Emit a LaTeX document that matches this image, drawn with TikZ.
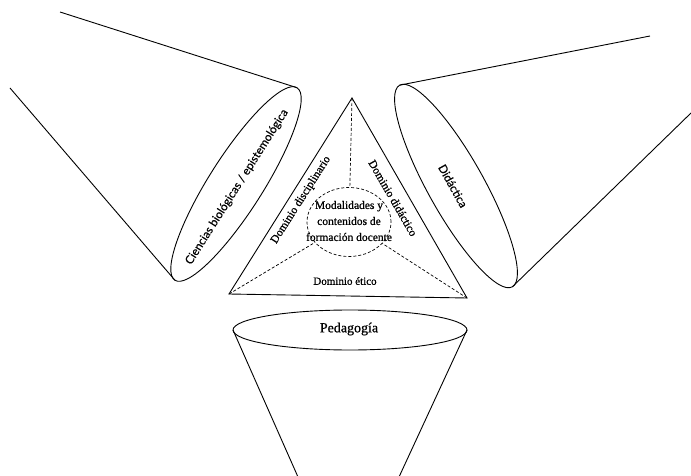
\documentclass[tikz,border=0pt]{standalone}
\usepackage{fontspec}
\setmainfont{Liberation Serif}
\newfontfamily\darkserif[FakeBold=0.8]{Liberation Serif}
\newfontfamily\optfont[FakeBold=0.4]{Lato}
\usetikzlibrary{shapes.geometric}
\begin{document}
\begin{tikzpicture}[x=1pt,y=-1pt, line width=0.9pt,
  conebase/.style={draw, ellipse, inner sep=0pt, outer sep=0pt},
  lbl/.style={inner sep=0pt, font=\darkserif\fontsize{11.5}{13}\selectfont},
  sanslbl/.style={inner sep=0pt, font=\optfont\fontsize{11.5}{13}\selectfont},
  dsh/.style={dash pattern=on 3pt off 2pt, line width=0.7pt}]
\useasboundingbox (0,0) rectangle (691,476);

% left cone
\node[conebase, rotate=57.6, minimum width=228pt, minimum height=54pt] (cb) at (236,184) {};
\node[sanslbl, rotate=57.6] (cbt) at (237,187) {Ciencias biológicas / epistemológica};
\coordinate (ltop) at (60,12);
\coordinate (lleft) at (10,88);
\draw (cb.east) -- (ltop);
\draw (cb.west) -- (lleft);

% right cone
\node[conebase, rotate=-60.8, minimum width=231pt, minimum height=56pt] (dd) at (456,186) {};
\node[sanslbl, rotate=-60.8] (ddt) at (453,186) {Didáctica};
\coordinate (rtop) at (650,36);
\coordinate (rright) at (691,113);
\draw (dd.west) -- (rtop);
\draw (dd.east) -- (rright);

% bottom cone
\node[conebase, minimum width=234pt, minimum height=40pt] (ped) at (350,330) {};
\node[lbl, font=\darkserif\fontsize{14}{16}\selectfont] (pedt) at (349,329) {Pedagogía};
\coordinate (pl) at (298,477);
\coordinate (pr) at (399,477);
\draw (ped.west) -- (pl);
\draw (ped.east) -- (pr);

% triangle
\coordinate (apex) at (352,98);
\coordinate (bl) at (229,294);
\coordinate (br) at (467,298);
\draw (apex) -- (bl) -- (br) -- cycle;

% central circle
\node[draw, ellipse, dsh, minimum width=84pt, minimum height=69pt, inner sep=0pt] (circ) at (349,222) {};
\node[lbl, align=center, font=\darkserif\fontsize{11.5}{16}\selectfont] (circt) at (349,221)
  {Modalidades y\\contenidos de\\formación docente};
\draw[dsh] (apex) -- (circ);
\draw[dsh] (bl) -- (circ);
\draw[dsh] (br) -- (circ);

% domain labels
\node[lbl, rotate=57.5] (ddisc) at (301,200) {Dominio disciplinario};
\node[lbl, rotate=-60] (ddid) at (393,198) {Dominio didáctico};
\node[lbl, font=\darkserif\fontsize{11}{13}\selectfont] (detico) at (345,281) {Dominio ético};
\end{tikzpicture}
\end{document}
